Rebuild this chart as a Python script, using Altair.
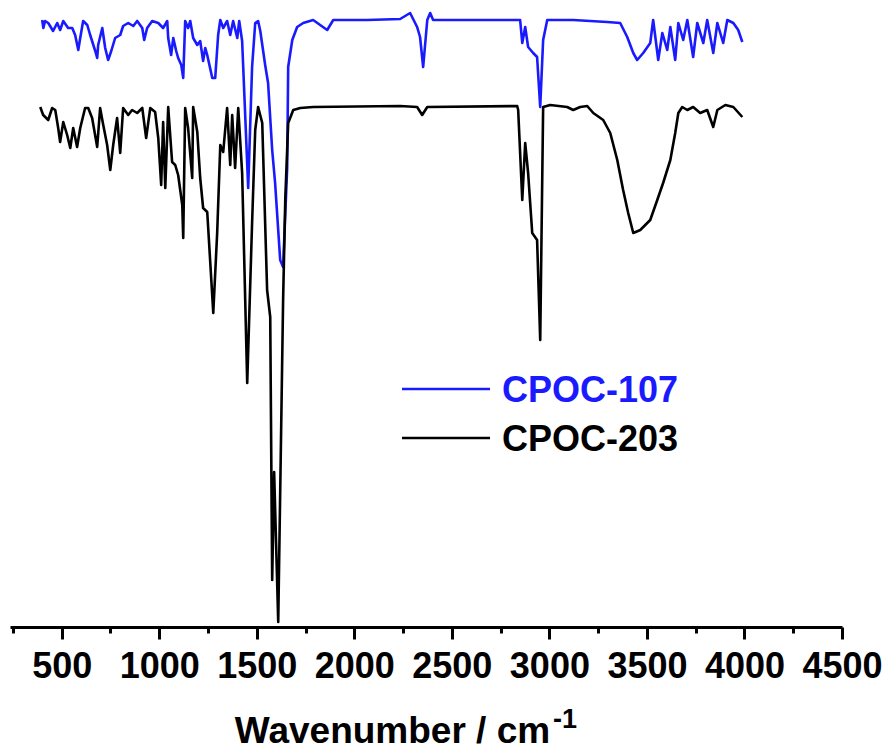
import altair as alt
import pandas as pd

# ---------------- data ----------------
series_names = ["CPOC-107", "CPOC-203"]
series_colors = ["#1a1aff", "#000000"]

# CPOC-107 (blue, upper trace) : wavenumber (cm-1) and intensity (a.u.)
wn_107 = [400, 406, 415, 431, 456, 477, 492, 508, 533, 554, 569, 585, 595, 610, 631, 646,
          672, 682, 687, 708, 723, 738, 754, 774, 800, 815, 841, 867, 887, 913, 923, 938,
          964, 995, 1020, 1041, 1046, 1061, 1072, 1087, 1097, 1113, 1123, 1133, 1148, 1159,
          1174, 1195, 1210, 1225, 1236, 1246, 1272, 1287, 1302, 1313, 1328, 1348, 1364, 1379,
          1400, 1410, 1425, 1456, 1476, 1492, 1507, 1518, 1543, 1558, 1579, 1594, 1620, 1635,
          1656, 1661, 1682, 1707, 1738, 1789, 1861, 1892, 2066, 2235, 2286, 2322, 2337, 2353,
          2374, 2389, 2404, 2440, 2835, 2850, 2861, 2876, 2891, 2917, 2937, 2953, 2968, 2989,
          3122, 3296, 3363, 3399, 3430, 3450, 3481, 3517, 3532, 3558, 3579, 3604, 3620, 3645,
          3661, 3686, 3707, 3737, 3758, 3789, 3809, 3840, 3861, 3891, 3912, 3943, 3968, 3989]
ab_107 = [607, 599, 606, 604, 596, 604, 597, 606, 599, 599, 592, 577, 589, 606, 602, 592,
          576, 569, 582, 599, 579, 567, 576, 589, 592, 601, 604, 601, 606, 599, 587, 599,
          606, 604, 599, 606, 589, 572, 589, 576, 569, 562, 549, 606, 599, 606,
          589, 582, 586, 566, 579, 572, 549, 549, 592, 607, 599, 606, 592, 606,
          589, 606, 586, 439, 560, 604, 606, 596, 562, 544, 477, 444, 367, 360,
          460, 560, 587, 600, 604, 607, 597, 607, 607, 608, 614, 600, 590, 560,
          607, 614, 607, 607, 607, 607, 584, 600, 580, 574, 570, 520, 587, 607,
          607, 605, 604, 590, 574, 567, 574, 584, 607, 567, 594, 577, 600, 567,
          604, 587, 607, 570, 604, 584, 607, 574, 604, 584, 607, 604, 597, 585]

# CPOC-203 (black, lower trace)
wn_203 = [390, 405, 431, 451, 467, 482, 492, 508, 528, 544, 559, 579, 595, 620, 636, 656,
          682, 697, 713, 733, 749, 764, 784, 800, 815, 841, 861, 887, 913, 933, 954, 979,
          995, 1010, 1020, 1031, 1046, 1066, 1082, 1097, 1118, 1123, 1133, 1148, 1169, 1174,
          1195, 1210, 1225, 1246, 1251, 1277, 1297, 1313, 1328, 1348, 1364, 1374, 1389, 1405,
          1425, 1451, 1476, 1492, 1507, 1528, 1553, 1569, 1579, 1589, 1610, 1635, 1646, 1661,
          1687, 1723, 1789, 2235, 2322, 2348, 2374, 2835, 2840, 2861, 2876, 2891, 2912, 2937,
          2953, 2968, 3004, 3091, 3122, 3158, 3194, 3225, 3276, 3312, 3348, 3378, 3404, 3430,
          3466, 3517, 3553, 3583, 3620, 3645, 3661, 3681, 3707, 3737, 3773, 3809, 3840, 3861,
          3902, 3943, 3989]
ab_203 = [520, 512, 507, 519, 517, 499, 485, 505, 492, 479, 499, 480, 499, 519, 519, 509,
          480, 519, 502, 482, 457, 482, 509, 474, 519, 512, 517, 514, 519, 489, 519, 515,
          489, 442, 505, 439, 520, 465, 462, 452, 422, 389, 519, 499, 449, 520,
          495, 449, 419, 415, 399, 314, 394, 482, 475, 519, 462, 512, 459, 519,
          454, 244, 404, 497, 520, 504, 337, 310, 47, 155, 5, 327, 427, 504,
          517, 519, 520, 521, 520, 512, 520, 521, 517, 427, 484, 454, 394, 387,
          287, 520, 522, 520, 517, 520, 521, 514, 507, 494, 467, 437, 414, 394,
          397, 407, 427, 444, 467, 494, 514, 520, 517, 520, 514, 517, 500, 517,
          522, 520, 510]

x_tick_values = list(range(250, 4501, 250))   # majors every 500, minors in between
x_domain = [235, 4500]
y_domain = [0, 627]

# ---------------- build tables ----------------
df = pd.concat([
    pd.DataFrame({"wavenumber": wn_107, "intensity": ab_107, "series": series_names[0]}),
    pd.DataFrame({"wavenumber": wn_203, "intensity": ab_203, "series": series_names[1]}),
], ignore_index=True)
legend_df = pd.DataFrame({"series": series_names})
unit_df = pd.DataFrame({"sup": ["-1"]})

FONT = "Liberation Sans"
color_scale = alt.Scale(domain=series_names, range=series_colors)

lines = alt.Chart(df).mark_line(strokeWidth=2.6, strokeJoin="round").encode(
    x=alt.X("wavenumber:Q",
            scale=alt.Scale(domain=x_domain, nice=False, zero=False),
            axis=alt.Axis(values=x_tick_values, format="d", labelOverlap=False,
                          labelFlush=False,
                          labelExpr="datum.value % 500 == 0 ? datum.label : ''",
                          tickSize={"condition": {"test": "datum.value % 500 == 0", "value": 12},
                                    "value": 6},
                          labelPadding=10,
                          title="Wavenumber / cm",
                          titleX=382, titleY=115, titleBaseline="alphabetic")),
    y=alt.Y("intensity:Q", scale=alt.Scale(domain=y_domain, nice=False), axis=None),
    color=alt.Color("series:N", scale=color_scale, legend=None),
)

# superscript "-1" of the axis unit
unit_sup = alt.Chart(unit_df).mark_text(
    align="left", baseline="alphabetic", font=FONT, fontSize=27, fontWeight="bold", color="black"
).encode(x=alt.value(543), y=alt.value(101 + 627), text="sup:N")

legend_layers = []
for name, ypos in zip(series_names, [389, 438]):
    legend_layers.append(
        alt.Chart(legend_df).transform_filter(alt.datum.series == name)
        .mark_rule(strokeWidth=2.5)
        .encode(x=alt.value(392), x2=alt.value(480), y=alt.value(ypos),
                color=alt.Color("series:N", scale=color_scale, legend=None))
    )
    legend_layers.append(
        alt.Chart(legend_df).transform_filter(alt.datum.series == name)
        .mark_text(align="left", baseline="middle", font=FONT, fontSize=36, fontWeight="bold")
        .encode(x=alt.value(492), y=alt.value(ypos + 2), text="series:N",
                color=alt.Color("series:N", scale=color_scale, legend=None))
    )

chart = alt.layer(lines, unit_sup, *legend_layers).properties(
    width=832, height=627,
    autosize=alt.AutoSizeParams(type="none"),
    padding={"left": 10, "top": 0, "right": 45, "bottom": 122},
    background="white",
).configure_view(stroke=None).configure_axis(
    grid=False,
    domainColor="black", domainWidth=3,
    tickColor="black", tickWidth=3,
    labelFont=FONT, labelFontSize=36, labelFontWeight="bold", labelColor="black",
    titleFont=FONT, titleFontSize=37, titleFontWeight="bold", titleColor="black",
)

chart.save("out.html", embed_options={"renderer": "svg", "actions": False})
